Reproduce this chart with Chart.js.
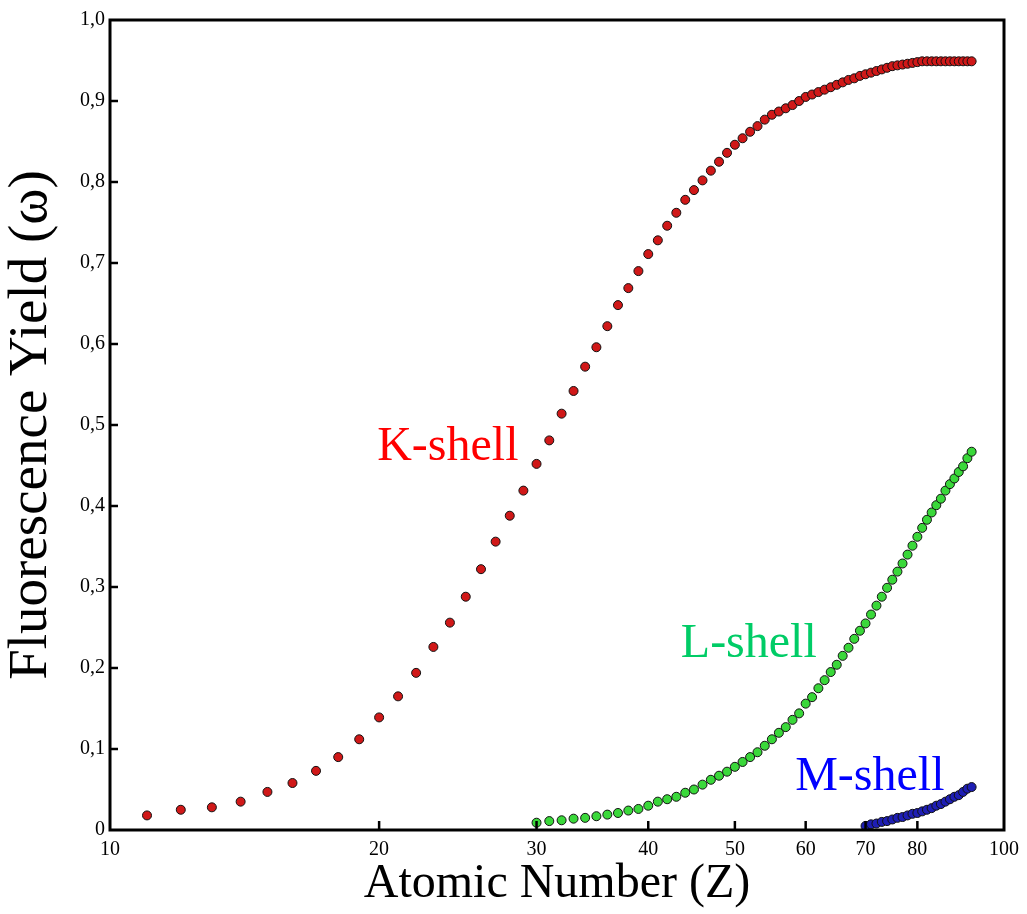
<!DOCTYPE html>
<html>
<head>
<meta charset="utf-8">
<script src="https://cdn.jsdelivr.net/npm/chart.js@4/dist/chart.umd.min.js"></script>
<style>
  html, body { margin: 0; padding: 0; background: #fff; }
  canvas { display: block; }
</style>
</head>
<body>
<canvas id="yieldChart" width="1027" height="914"></canvas>
<script>
// atomic numbers and fluorescence yields
const kShellZ = [11,12,13,14,15,16,17,18,19,20,21,22,23,24,25,26,27,28,29,30,31,32,33,34,35,36,37,38,39,40,
  41,42,43,44,45,46,47,48,49,50,51,52,53,54,55,56,57,58,59,60,61,62,63,64,65,66,67,68,69,70,
  71,72,73,74,75,76,77,78,79,80,81,82,83,84,85,86,87,88,89,90,91,92];
const kShellYield = [0.018,0.025,0.028,0.035,0.047,0.058,0.073,0.090,0.112,0.139,0.165,0.194,0.226,0.256,0.288,
  0.322,0.356,0.388,0.419,0.452,0.481,0.514,0.542,0.572,0.596,0.622,0.648,0.669,0.690,0.711,
  0.728,0.746,0.762,0.778,0.790,0.802,0.814,0.825,0.836,0.846,0.854,0.862,0.869,0.877,0.883,
  0.887,0.891,0.895,0.900,0.905,0.908,0.911,0.914,0.917,0.920,0.923,0.926,0.928,0.931,0.933,
  0.935,0.937,0.939,0.941,0.943,0.944,0.945,0.946,0.947,0.948,0.949,0.949,0.949,0.949,0.949,
  0.949,0.949,0.949,0.949,0.949,0.949,0.949];

const lShellZ = [30,31,32,33,34,35,36,37,38,39,40,41,42,43,44,45,46,47,48,49,50,51,52,53,54,55,56,57,58,59,60,
  61,62,63,64,65,66,67,68,69,70,71,72,73,74,75,76,77,78,79,80,81,82,83,84,85,86,87,88,89,90,91,92];
const lShellYield = [0.009,0.011,0.012,0.014,0.015,0.017,0.019,0.021,0.024,0.026,0.030,0.035,0.038,0.041,0.046,
  0.050,0.056,0.062,0.067,0.072,0.078,0.084,0.090,0.096,0.104,0.112,0.120,0.127,0.136,0.144,
  0.156,0.164,0.175,0.185,0.195,0.204,0.215,0.225,0.236,0.246,0.255,0.266,0.277,0.288,0.299,
  0.309,0.319,0.329,0.340,0.351,0.362,0.373,0.383,0.392,0.401,0.409,0.419,0.427,0.434,0.442,
  0.449,0.459,0.467];

const mShellZ = [70,71,72,73,74,75,76,77,78,79,80,81,82,83,84,85,86,87,88,89,90,91,92];
const mShellYield = [0.005,0.007,0.008,0.010,0.011,0.013,0.015,0.016,0.018,0.020,0.021,0.023,0.025,0.027,
  0.030,0.032,0.035,0.038,0.041,0.043,0.047,0.051,0.053];

const xTicks = [10, 20, 30, 40, 50, 60, 70, 80, 100];
const yTicks = [0, 0.1, 0.2, 0.3, 0.4, 0.5, 0.6, 0.7, 0.8, 0.9, 1.0];

const serif = '"Liberation Serif", "Times New Roman", serif';

function toPoints(zs, ys) {
  return zs.map((z, i) => ({ x: z, y: ys[i] }));
}

// shell names placed in data coordinates (left edge, baseline)
const shellLabels = [
  { text: 'K-shell', x: 19.9, y: 0.457, color: '#ff0000' },
  { text: 'L-shell', x: 43.5, y: 0.214, color: '#00cc66' },
  { text: 'M-shell', x: 58.4, y: 0.049, color: '#0000ff' }
];

// box around the plot with inward ticks, like the original
const framePlugin = {
  id: 'frame',
  afterDatasetsDraw(chart) {
    const { ctx, chartArea: a, scales } = chart;
    ctx.save();
    ctx.strokeStyle = '#000';
    ctx.lineWidth = 2.5;
    xTicks.forEach(v => {
      if (v === 10 || v === 100) return;
      const px = scales.x.getPixelForValue(v);
      ctx.beginPath();
      ctx.moveTo(px, a.bottom);
      ctx.lineTo(px, a.bottom - 9);
      ctx.stroke();
    });
    yTicks.forEach(v => {
      if (v === 0 || v === 1) return;
      const py = scales.y.getPixelForValue(v);
      ctx.beginPath();
      ctx.moveTo(a.left, py);
      ctx.lineTo(a.left + 8, py);
      ctx.stroke();
    });
    ctx.lineWidth = 3;
    ctx.strokeRect(a.left, a.top, a.right - a.left, a.bottom - a.top);

    ctx.font = '48px ' + serif;
    ctx.textAlign = 'left';
    ctx.textBaseline = 'alphabetic';
    shellLabels.forEach(l => {
      ctx.fillStyle = l.color;
      ctx.fillText(l.text, scales.x.getPixelForValue(l.x), scales.y.getPixelForValue(l.y));
    });
    ctx.restore();
  }
};

const pointStyle = (fill) => ({
  showLine: false,
  pointRadius: 4.5,
  pointHoverRadius: 4.5,
  pointBorderWidth: 1,
  pointBorderColor: '#111',
  pointBackgroundColor: fill,
  backgroundColor: fill,
  borderColor: '#111'
});

new Chart(document.getElementById('yieldChart'), {
  type: 'scatter',
  data: {
    datasets: [
      Object.assign({ label: 'K-shell', data: toPoints(kShellZ, kShellYield) }, pointStyle('#d01818')),
      Object.assign({ label: 'L-shell', data: toPoints(lShellZ, lShellYield) }, pointStyle('#3ad83a')),
      Object.assign({ label: 'M-shell', data: toPoints(mShellZ, mShellYield) }, pointStyle('#1e1eb4'))
    ]
  },
  options: {
    responsive: false,
    animation: false,
    layout: { padding: { left: 0, right: 19, top: 20, bottom: 0 } },
    plugins: {
      legend: { display: false },
      tooltip: { enabled: false }
    },
    scales: {
      x: {
        type: 'logarithmic',
        min: 10,
        max: 100,
        border: { display: false },
        grid: { display: false, drawTicks: false },
        afterBuildTicks(scale) {
          scale.ticks = xTicks.map(v => ({ value: v }));
        },
        afterFit(scale) { scale.height = 84; },
        ticks: {
          autoSkip: false,
          maxRotation: 0,
          padding: 8,
          color: '#000',
          font: { family: serif, size: 20 },
          callback: (v) => String(v)
        },
        title: {
          display: true,
          text: 'Atomic Number (Z)',
          color: '#000',
          font: { family: serif, size: 48, lineHeight: 1 },
          padding: { top: 0, bottom: 6 }
        }
      },
      y: {
        min: 0,
        max: 1,
        border: { display: false },
        grid: { display: false, drawTicks: false },
        afterBuildTicks(scale) {
          scale.ticks = yTicks.map(v => ({ value: v }));
        },
        afterFit(scale) { scale.width = 110; },
        ticks: {
          padding: 5,
          color: '#000',
          font: { family: serif, size: 20 },
          callback: (v) => v === 0 ? '0' : v.toFixed(1).replace('.', ',')
        },
        title: {
          display: true,
          text: 'Fluorescence Yield (\u03c9)',
          color: '#000',
          font: { family: serif, size: 55, lineHeight: 1 },
          padding: { top: 4, bottom: 0 }
        }
      }
    }
  },
  plugins: [framePlugin]
});
</script>
</body>
</html>
